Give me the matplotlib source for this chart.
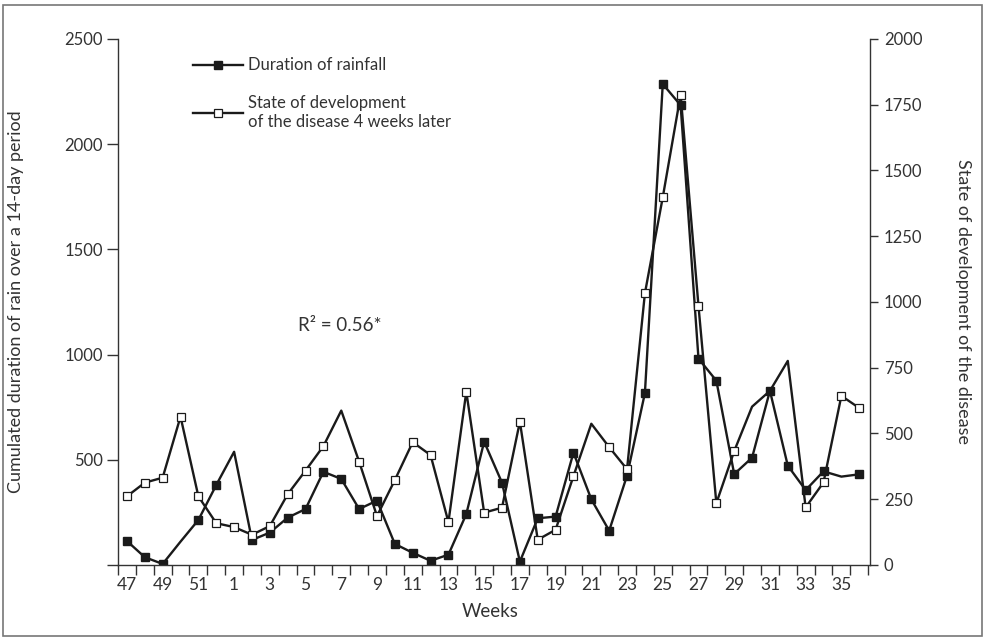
import matplotlib
matplotlib.use("Agg")
import matplotlib.pyplot as plt
from matplotlib.patches import Rectangle

# ---- data ----
weeks = [47, 48, 49, 50, 51, 52] + list(range(1, 37))
week_tick_labels = ["47", "49", "51", "1", "3", "5", "7", "9", "11", "13", "15", "17",
                    "19", "21", "23", "25", "27", "29", "31", "33", "35"]
rain_duration = [114, 37, 5, 111, 214, 380, 538, 119, 154, 225, 266, 443, 409, 266,
                 306, 100, 58, 20, 49, 242, 586, 391, 16, 222, 230, 534, 312, 163,
                 425, 817, 2286, 2185, 981, 876, 432, 510, 828, 472, 356, 445, 420, 431]
disease_state = [261, 313, 332, 564, 261, 159, 144, 115, 148, 269, 359, 452, 587, 393,
                 186, 323, 467, 418, 163, 659, 199, 218, 545, 96, 134, 338, 537, 448,
                 364, 1033, 1398, 1788, 985, 235, 433, 602, 662, 776, 219, 314, 643, 597]
rain_no_marker = [3, 6, 40]
disease_no_marker = [12, 26, 35, 36, 37]
left_ticks = [0, 500, 1000, 1500, 2000, 2500]
left_tick_labels = ["", "500", "1000", "1500", "2000", "2500"]
right_ticks = [0, 250, 500, 750, 1000, 1250, 1500, 1750, 2000]

plt.rcParams['font.family'] = ['Lato', 'DejaVu Sans']
TXT = "#333333"
LINE = "#1a1a1a"

fig = plt.figure(figsize=(9.85, 6.4), dpi=100)
ax = fig.add_axes([0.1198, 0.1172, 0.7634, 0.8219])
ax2 = ax.twinx()

n = len(weeks)
xs = list(range(n))
rain_marks = [i for i in xs if i not in rain_no_marker]
dis_marks = [i for i in xs if i not in disease_no_marker]

l1, = ax.plot(xs, rain_duration, color=LINE, lw=1.7, marker='s', markersize=5.2,
              markerfacecolor=LINE, markeredgecolor=LINE, markevery=rain_marks,
              label="Duration of rainfall")
l2, = ax2.plot(xs, disease_state, color=LINE, lw=1.7, marker='s', markersize=5.2,
               markerfacecolor='white', markeredgecolor=LINE, markeredgewidth=0.9,
               markevery=dis_marks,
               label="State of development\nof the disease 4 weeks later")

ax.set_xlim(-0.5, n - 0.4)
ax.set_ylim(0, 2500)
ax2.set_ylim(0, 2000)

for a in (ax, ax2):
    a.spines['top'].set_visible(False)
    for s in ('left', 'right', 'bottom'):
        a.spines[s].set_color('#333333')
        a.spines[s].set_linewidth(1.0)
ax.spines['right'].set_visible(False)
ax2.spines['left'].set_visible(False)
ax2.spines['bottom'].set_visible(False)

# x ticks: tick marks between weeks, labels at every other week
ax.set_xticks([i + 0.5 for i in range(-1, n)])
ax.set_xticklabels([])
ax.tick_params(axis='x', which='major', length=7, width=1.0, color='#333333', direction='out')
ax.set_xticks(xs[::2], week_tick_labels, minor=True)
ax.tick_params(axis='x', which='minor', length=0, pad=9, labelsize=12.5, labelcolor=TXT)

ax.set_yticks(left_ticks, left_tick_labels)
ax.tick_params(axis='y', length=8, width=1.0, color='#333333', pad=3,
               labelsize=12, labelcolor=TXT)
ax2.set_yticks(right_ticks, [str(t) for t in right_ticks])
ax2.tick_params(axis='y', length=6, width=1.0, color='#333333', pad=4,
                labelsize=12, labelcolor=TXT)

ax.set_ylabel("Cumulated duration of rain over a 14-day period", fontsize=13, color=TXT)
ax.yaxis.set_label_coords(-0.125, 0.5)
ax2.set_ylabel("State of development of the disease", fontsize=13, color=TXT,
               rotation=270, va='center')
ax2.yaxis.set_label_coords(1.124, 0.5)
ax.set_xlabel("Weeks", fontsize=13.5, color=TXT)
ax.xaxis.set_label_coords(0.495, -0.072)

ax.text(0.239, 0.456, "R² = 0.56*", transform=ax.transAxes, fontsize=13.5,
        color=TXT, ha='left', va='center')

leg = ax.legend(handles=[l1, l2], loc='upper left', bbox_to_anchor=(0.10, 0.965),
                frameon=False, fontsize=12, handlelength=3.0, handletextpad=0.3,
                labelspacing=1.3, borderpad=0, borderaxespad=0)
for t in leg.get_texts():
    t.set_color(TXT)
leg.set_zorder(5)

fig.patches.append(Rectangle((0.003, 0.006), 0.994, 0.986, transform=fig.transFigure,
                             fill=False, edgecolor='#777777', lw=1.2))

fig.savefig("out.png", dpi=100)
